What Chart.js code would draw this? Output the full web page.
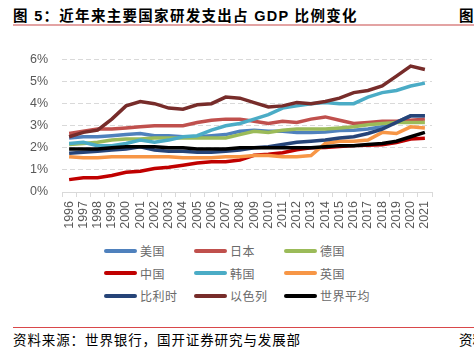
<!DOCTYPE html>
<html>
<head>
<meta charset="utf-8">
<script src="https://cdn.jsdelivr.net/npm/chart.js@4.4.0/dist/chart.umd.min.js"></script>
<style>
  body { margin: 0; width: 474px; height: 354px; background: #fff; position: relative; overflow: hidden; font-family: "Liberation Sans", "Noto Sans CJK SC", sans-serif; }
  .title { position: absolute; left: 13px; top: 4px; font-size: 14.5px; letter-spacing: 1.3px; font-weight: bold; color: #000; white-space: nowrap; }
  .title-r { position: absolute; left: 459px; top: 4px; font-size: 14.5px; font-weight: bold; white-space: nowrap; }
  .topline { position: absolute; left: 13px; right: 0; top: 24px; height: 2px; background: #e3a3a3; }
  .botline { position: absolute; left: 13px; right: 0; top: 327px; height: 1px; background: #d9484a; }
  .source { position: absolute; left: 13px; top: 329px; font-size: 13.5px; letter-spacing: 0.9px; color: #000; font-family: "Noto Sans CJK SC", sans-serif; white-space: nowrap; }
  .source-r { position: absolute; left: 459px; top: 329px; font-size: 13.5px; font-family: "Noto Sans CJK SC", sans-serif; white-space: nowrap; }
  #wrap { position: absolute; left: 0; top: 38px; width: 474px; height: 204px; }
  #legend { position: absolute; left: 104px; top: 242px; width: 300px; }
  .item { position: absolute; display: flex; align-items: center; font-size: 12px; color: #6a6a6a; font-family: "Noto Sans CJK SC", sans-serif; letter-spacing: 0.5px; white-space: nowrap; }
  .swatch { width: 33px; height: 4px; border-radius: 2px; margin-right: 3px; }
</style>
</head>
<body>
<div class="title">图 5：近年来主要国家研发支出占 GDP 比例变化</div>
<div class="title-r">图</div>
<div class="topline"></div>
<div id="wrap"><canvas id="myChart"></canvas></div>
<div id="legend"></div>
<div class="botline"></div>
<div class="source">资料来源：世界银行，国开证券研究与发展部</div>
<div class="source-r">资料</div>
<script>
let years = ['1996','1997','1998','1999','2000','2001','2002','2003','2004','2005','2006','2007','2008',
             '2009','2010','2011','2012','2013','2014','2015','2016','2017','2018','2019','2020','2021'];
let yTicks = [0, 1, 2, 3, 4, 5, 6];

let names = ['美国', '日本', '德国', '中国', '韩国', '英国', '比利时', '以色列', '世界平均'];

let usa     = [2.45,2.5,2.5,2.55,2.6,2.65,2.55,2.55,2.5,2.5,2.55,2.6,2.75,2.8,2.75,2.75,2.7,2.7,2.72,2.78,2.8,2.85,2.95,3.15,3.45,3.45];
let japan   = [2.65,2.75,2.85,2.85,2.9,2.95,3.0,3.0,3.0,3.15,3.25,3.3,3.3,3.2,3.1,3.2,3.15,3.3,3.4,3.25,3.1,3.15,3.2,3.2,3.25,3.3];
let germany = [2.15,2.2,2.25,2.35,2.4,2.4,2.45,2.45,2.45,2.45,2.45,2.45,2.6,2.75,2.7,2.8,2.85,2.85,2.85,2.9,2.95,3.05,3.1,3.15,3.15,3.15];
let china   = [0.56,0.64,0.65,0.75,0.89,0.94,1.06,1.12,1.21,1.31,1.37,1.37,1.45,1.66,1.71,1.78,1.91,2.0,2.02,2.06,2.1,2.12,2.14,2.24,2.4,2.43];
let korea   = [2.2,2.25,2.1,2.1,2.2,2.35,2.25,2.35,2.5,2.55,2.8,3.0,3.1,3.3,3.5,3.8,3.9,4.0,4.05,4.0,4.0,4.3,4.5,4.6,4.8,4.93];
let uk      = [1.6,1.55,1.55,1.6,1.6,1.6,1.6,1.6,1.55,1.55,1.55,1.6,1.6,1.65,1.65,1.6,1.6,1.65,2.2,2.3,2.3,2.35,2.7,2.65,2.95,2.9];
let belgium = [1.75,1.8,1.85,1.9,1.95,2.05,1.9,1.85,1.85,1.8,1.8,1.85,1.9,2.0,2.05,2.15,2.25,2.3,2.35,2.45,2.5,2.65,2.85,3.15,3.45,3.45];
let israel  = [2.5,2.7,2.8,3.3,3.9,4.1,4.0,3.8,3.75,3.95,4.0,4.3,4.25,4.05,3.85,3.9,4.05,4.0,4.1,4.25,4.5,4.6,4.8,5.25,5.7,5.55];
let world   = [1.95,1.95,1.95,2.0,2.05,2.05,2.05,2.0,2.0,1.95,1.95,1.95,2.0,2.0,2.0,2.0,2.0,2.0,2.05,2.1,2.1,2.15,2.2,2.3,2.5,2.7];

let series = [usa, japan, germany, china, korea, uk, belgium, israel, world];
let colors = ['#4f81bd','#c0504d','#9bbb59','#c00000','#4bacc6','#f79646','#264478','#772c2a','#000000'];

let datasets = series.map((d, i) => ({
    label: names[i],
    data: d,
    borderColor: colors[i],
    backgroundColor: colors[i],
    borderWidth: 3.5,
    pointRadius: 0,
    tension: 0,
    order: names.length - i,
}));

// legend, 3 columns like the original
let legend = document.getElementById('legend');
names.forEach((n, i) => {
    let el = document.createElement('div');
    el.className = 'item';
    el.style.left = (i % 3) * 90 + 'px';
    el.style.top = Math.floor(i / 3) * 22.5 + 'px';
    el.innerHTML = '<div class="swatch" style="background:' + colors[i] + '"></div>' + n;
    legend.appendChild(el);
});

let ctx = document.getElementById('myChart').getContext('2d');
let myChart = new Chart(ctx, {
    type: 'line',
    data: { labels: years, datasets: datasets },
    options: {
        responsive: true,
        maintainAspectRatio: false,
        animation: false,
        layout: { padding: { top: 0, right: 42, left: 0, bottom: 0 } },
        scales: {
            x: {
                offset: true,
                afterFit: (scale) => { scale.height = 50; },
                grid: { offset: true, drawOnChartArea: false, tickLength: 5, color: '#d9d9d9' },
                border: { color: '#d9d9d9' },
                ticks: {
                    minRotation: 90, maxRotation: 90, padding: 4, autoSkip: false,
                    color: '#595959',
                    font: { family: "'Liberation Sans', Arial, sans-serif", size: 12.5 }
                }
            },
            y: {
                min: 0, max: 6,
                afterFit: (scale) => { scale.width = 62; },
                afterBuildTicks: (scale) => { scale.ticks = yTicks.map(v => ({ value: v })); },
                grid: { drawTicks: false, color: '#d9d9d9', lineWidth: 1 },
                border: { display: false, dash: [5, 3] },
                ticks: {
                    padding: 14,
                    color: '#595959',
                    font: { family: "'Liberation Sans', Arial, sans-serif", size: 12.5 },
                    callback: (v) => v + '%'
                }
            }
        },
        plugins: {
            legend: { display: false },
            tooltip: { enabled: false }
        }
    }
});
</script>
</body>
</html>
